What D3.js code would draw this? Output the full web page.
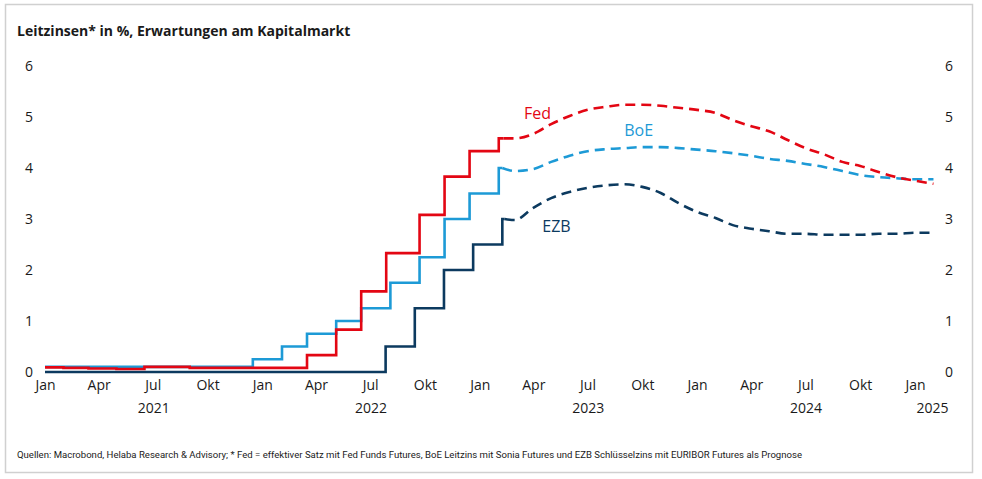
<!DOCTYPE html>
<html>
<head>
<meta charset="utf-8">
<script src="https://cdn.jsdelivr.net/npm/d3@7"></script>
<style>
  body { margin: 0; background: #fff; }
  svg { display: block; font-family: "Open Sans", "Noto Sans", sans-serif; }
</style>
</head>
<body>
<svg id="chart" width="982" height="479"></svg>
<script>
// historic step data (date of change, level)
const fedHistDates = ["2021-01-01", "2021-02-01", "2021-03-15", "2021-05-01", "2021-06-17", "2021-09-01",
  "2022-03-17", "2022-05-05", "2022-06-16", "2022-07-28", "2022-09-22", "2022-11-03", "2022-12-15", "2023-02-02", "2023-02-10"];
const fedHistValues = [0.09, 0.08, 0.07, 0.06, 0.10, 0.08, 0.33, 0.83, 1.58, 2.33, 3.08, 3.83, 4.33, 4.58, 4.58];

const boeHistDates = ["2021-01-01", "2021-12-16", "2022-02-03", "2022-03-17", "2022-05-05", "2022-06-16",
  "2022-08-04", "2022-09-22", "2022-11-03", "2022-12-15", "2023-02-02", "2023-02-08"];
const boeHistValues = [0.10, 0.25, 0.50, 0.75, 1.00, 1.25, 1.75, 2.25, 3.00, 3.50, 4.00, 4.00];

const ezbHistDates = ["2021-01-01", "2022-07-27", "2022-09-14", "2022-11-02", "2022-12-21", "2023-02-08", "2023-02-12"];
const ezbHistValues = [0.00, 0.50, 1.25, 2.00, 2.50, 3.00, 3.00];

// market expectations, monthly Mar 2023 .. Feb 2025
const forecastMonths = ["2023-03", "2023-04", "2023-05", "2023-06", "2023-07", "2023-08", "2023-09", "2023-10",
  "2023-11", "2023-12", "2024-01", "2024-02", "2024-03", "2024-04", "2024-05", "2024-06", "2024-07", "2024-08",
  "2024-09", "2024-10", "2024-11", "2024-12", "2025-01", "2025-02"];
const fedForecast = [4.58, 4.67, 4.86, 5.02, 5.14, 5.20, 5.24, 5.24, 5.22, 5.18, 5.14, 5.08,
  4.94, 4.82, 4.72, 4.55, 4.39, 4.27, 4.12, 4.04, 3.92, 3.82, 3.75, 3.69];
const boeForecast = [3.94, 3.98, 4.12, 4.24, 4.33, 4.37, 4.39, 4.41, 4.41, 4.39, 4.36, 4.33,
  4.29, 4.24, 4.18, 4.14, 4.08, 4.02, 3.94, 3.86, 3.82, 3.80, 3.78, 3.78];
const ezbForecast = [2.98, 3.22, 3.41, 3.53, 3.61, 3.66, 3.68, 3.63, 3.51, 3.31, 3.14, 3.02,
  2.88, 2.81, 2.76, 2.71, 2.71, 2.69, 2.69, 2.69, 2.71, 2.71, 2.73, 2.73];

const quarterTicks = ["2021-01", "2021-04", "2021-07", "2021-10", "2022-01", "2022-04", "2022-07", "2022-10",
  "2023-01", "2023-04", "2023-07", "2023-10", "2024-01", "2024-04", "2024-07", "2024-10", "2025-01"];
const monthNames = ["Jan", "Feb", "Mär", "Apr", "Mai", "Jun", "Jul", "Aug", "Sep", "Okt", "Nov", "Dez"];
const years = [2021, 2022, 2023, 2024, 2025];
const yTicks = [0, 1, 2, 3, 4, 5, 6];

const title = "Leitzinsen* in %, Erwartungen am Kapitalmarkt";
const footnote = "Quellen: Macrobond, Helaba Research & Advisory; * Fed = effektiver Satz mit Fed Funds Futures, BoE Leitzins mit Sonia Futures und EZB Schlüsselzins mit EURIBOR Futures als Prognose";

const colors = { fed: "#e30613", boe: "#1d9ad6", ezb: "#0c3a5f" };

const parseDay = d3.timeParse("%Y-%m-%d");
const parseMonth = d3.timeParse("%Y-%m");
const dataEnd = new Date(2025, 2, 1);

const svg = d3.select("#chart");

// frame
svg.append("rect")
  .attr("x", 5.5).attr("y", 4.5)
  .attr("width", 967).attr("height", 468)
  .attr("fill", "#fff").attr("stroke", "#d0d0d0").attr("stroke-width", 1.5);

const x = d3.scaleTime()
  .domain([new Date(2021, 0, 1), new Date(2025, 0, 1)])
  .range([45, 915]);
const y = d3.scaleLinear().domain([0, 6]).range([372, 66]);

svg.append("text")
  .attr("x", 17).attr("y", 36)
  .attr("font-size", 14).attr("font-weight", "bold").attr("fill", "#1a1a1a")
  .text(title);

const styleAxis = g => {
  g.attr("font-family", null).attr("font-size", null);
  g.select(".domain").remove();
  g.selectAll("text").attr("font-size", 14).attr("fill", "#1a1a1a");
};

// y axes left and right
const yLeft = d3.axisLeft(y).tickValues(yTicks).tickFormat(d3.format("d")).tickSize(0).tickPadding(0);
svg.append("g").attr("transform", "translate(29,0)").call(yLeft)
  .call(styleAxis)
  .call(g => g.selectAll("text").attr("text-anchor", "middle"));
const yRight = d3.axisRight(y).tickValues(yTicks).tickFormat(d3.format("d")).tickSize(0).tickPadding(0);
svg.append("g").attr("transform", "translate(949,0)").call(yRight)
  .call(styleAxis)
  .call(g => g.selectAll("text").attr("text-anchor", "middle"));

// x axis: quarter months and years
const xAxis = d3.axisBottom(x)
  .tickValues(quarterTicks.map(parseMonth))
  .tickFormat(d => monthNames[d.getMonth()])
  .tickSize(0).tickPadding(0);
svg.append("g").attr("transform", "translate(0,377)").call(xAxis)
  .call(styleAxis)
  .call(g => g.selectAll("text").attr("dy", "0.95em"));

svg.append("g").selectAll("text")
  .data(years)
  .join("text")
  .attr("x", yr => {
    const a = new Date(yr, 0, 1), b = d3.min([new Date(yr + 1, 0, 1), dataEnd]);
    return (x(a) + x(b)) / 2;
  })
  .attr("y", 413)
  .attr("text-anchor", "middle").attr("font-size", 14).attr("fill", "#1a1a1a")
  .text(yr => yr);

// lines
const stepLine = d3.line()
  .x(d => x(d.date)).y(d => y(d.value))
  .curve(d3.curveStepAfter);
const smoothLine = d3.line()
  .x(d => x(d.date)).y(d => y(d.value))
  .curve(d3.curveMonotoneX);

const series = [
  { key: "ezb", dates: ezbHistDates, values: ezbHistValues, fc: ezbForecast },
  { key: "boe", dates: boeHistDates, values: boeHistValues, fc: boeForecast },
  { key: "fed", dates: fedHistDates, values: fedHistValues, fc: fedForecast }
];

series.forEach(s => {
  const hist = s.dates.map((d, i) => ({ date: parseDay(d), value: s.values[i] }));
  const last = hist[hist.length - 1];
  const fc = [last].concat(forecastMonths.map((m, i) => ({ date: parseMonth(m), value: s.fc[i] })));

  svg.append("path")
    .datum(hist)
    .attr("d", stepLine)
    .attr("fill", "none")
    .attr("stroke", colors[s.key])
    .attr("stroke-width", 2.6);

  svg.append("path")
    .datum(fc)
    .attr("d", smoothLine)
    .attr("fill", "none")
    .attr("stroke", colors[s.key])
    .attr("stroke-width", 2.6)
    .attr("stroke-dasharray", "10,6");
});

// series labels
const labels = [
  { text: "Fed", key: "fed", date: "2023-04-08", value: 5.07 },
  { text: "BoE", key: "boe", date: "2023-09-25", value: 4.74 },
  { text: "EZB", key: "ezb", date: "2023-05-10", value: 2.86 }
];
svg.append("g").selectAll("text")
  .data(labels)
  .join("text")
  .attr("x", d => x(parseDay(d.date)))
  .attr("y", d => y(d.value))
  .attr("dy", "0.35em")
  .attr("text-anchor", "middle")
  .attr("font-size", 16)
  .attr("fill", d => colors[d.key])
  .text(d => d.text);

svg.append("text")
  .attr("x", 17).attr("y", 458)
  .attr("font-size", 9.5)
  .attr("font-family", "'Liberation Sans Narrow', 'Roboto', sans-serif")
  .attr("fill", "#1a1a1a")
  .attr("textLength", 785).attr("lengthAdjust", "spacingAndGlyphs")
  .text(footnote);
</script>
</body>
</html>
